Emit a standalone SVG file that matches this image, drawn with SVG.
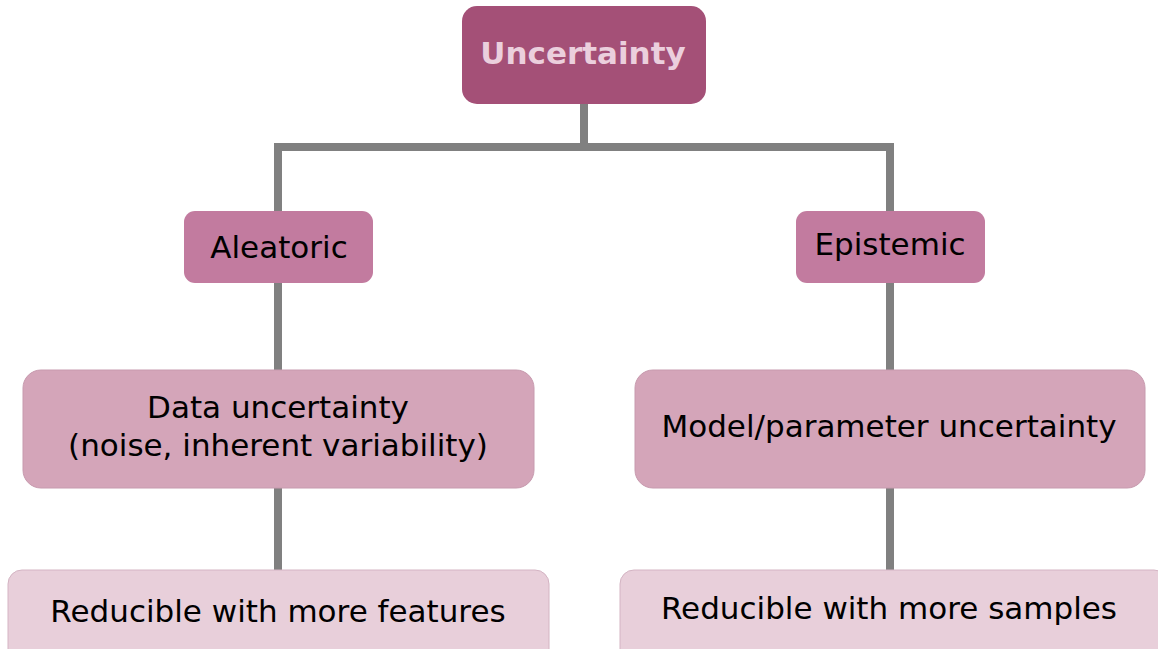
<svg xmlns="http://www.w3.org/2000/svg" width="1158" height="649" viewBox="0 0 1158 649">
<style>
text{font-family:"DejaVu Sans","Liberation Sans",sans-serif;font-size:31px;fill:#000;text-anchor:middle}
.root{fill:#a45077}
.l1{fill:#c27b9f}
.l2{fill:#d4a5b9;stroke:#c79aae;stroke-width:1}
.l3{fill:#e8cfda;stroke:#d4b4c3;stroke-width:1}
.conn{fill:none;stroke:#808080;stroke-width:8}
</style>
<rect width="1158" height="649" fill="#fff"/>
<g id="connectors">
<path class="conn" d="M584,104 V147 M278,147 H890 M278,143 V211 M890,143 V211"/>
<path class="conn" d="M278,283 V370 M278,488 V570"/>
<path class="conn" d="M890,283 V370 M890,488 V570"/>
</g>
<g id="uncertainty">
<rect class="root" x="462" y="6" width="244" height="98" rx="15"/>
<text x="583" y="64" style="font-weight:bold;fill:#ebcfdd">Uncertainty</text>
</g>
<g id="aleatoric">
<rect class="l1" x="184" y="211" width="189" height="72" rx="11"/>
<text x="279" y="258">Aleatoric</text>
</g>
<g id="epistemic">
<rect class="l1" x="796" y="211" width="189" height="72" rx="11"/>
<text x="890" y="255">Epistemic</text>
</g>
<g id="data">
<rect class="l2" x="23" y="370" width="511" height="118" rx="18"/>
<text x="278" y="418">Data uncertainty</text>
<text x="278" y="456">(noise, inherent variability)</text>
</g>
<g id="model">
<rect class="l2" x="635" y="370" width="510" height="118" rx="18"/>
<text x="889" y="437">Model/parameter uncertainty</text>
</g>
<g id="features">
<rect class="l3" x="8" y="570" width="541" height="95" rx="14"/>
<text x="278" y="622">Reducible with more features</text>
</g>
<g id="samples">
<rect class="l3" x="620" y="570" width="548" height="95" rx="14"/>
<text x="889" y="619">Reducible with more samples</text>
</g>
</svg>
